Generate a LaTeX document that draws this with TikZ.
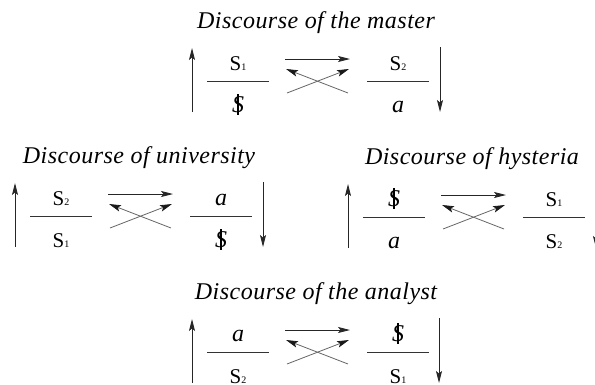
\documentclass[tikz,border=0pt]{standalone}
\usepackage{fontspec}
\setmainfont{Liberation Serif}
\newfontfamily\titlefont[LetterSpace=2]{Liberation Serif}
\usetikzlibrary{arrows.meta}
\newcommand\bS{{\ooalign{\itshape S\cr\hidewidth\rule[-0.12em]{0.045em}{0.86em}\hidewidth\cr}}}
\newcommand\Sn[1]{S{\fontsize{10bp}{10bp}\selectfont #1}}
\newcommand\ita{{\itshape a}}
\tikzset{
  dtitle/.style={anchor=base,inner sep=0pt,font=\titlefont\itshape\fontsize{24bp}{28bp}\selectfont},
  sterm/.style={anchor=base,inner sep=0pt,font=\fontsize{21bp}{24bp}\selectfont},
  iterm/.style={anchor=base,inner sep=0pt,font=\fontsize{24bp}{28bp}\selectfont},
  fbar/.style={line width=0.9bp,black!80},
  arr/.style={line width=0.9bp,black!85,-{Stealth[length=12bp,width=6bp,inset=2.5bp]}},
  carr/.style={line width=0.8bp,black!60,-{Stealth[length=12bp,width=6.5bp,inset=2.5bp,color=black!90]}}
}
% #1 name, #2 x0, #3 line y, #4 title, #5/#6 style+text num1, #7/#8 style+text den1, #9 right arrow x
\newcommand\disc[9]{%
\begin{scope}[shift={(#2,#3)}]
  \node[dtitle] (#1-t) at (124,-53) {#4};
  \node[#5] (#1-n1) at (46,-11) {#6};
  \node[#7] (#1-d1) at (46,31) {#8};
  \coordinate (#1-lb) at (0,31);
  \coordinate (#1-lt) at (0,-33);
  \draw[arr] (#1-lb) -- (#1-lt);
  \coordinate (#1-b1a) at (15,0); \coordinate (#1-b1b) at (77,0);
  \draw[fbar] (#1-b1a) -- (#1-b1b);
  \coordinate (#1-b2a) at (175,0); \coordinate (#1-b2b) at (237,0);
  \draw[fbar] (#1-b2a) -- (#1-b2b);
  \coordinate (#1-ha) at (93,-22); \coordinate (#1-hb) at (158,-22);
  \draw[arr] (#1-ha) -- (#1-hb);
  \coordinate (#1-c1) at (95,12); \coordinate (#1-c2) at (157,-12);
  \draw[carr] (#1-c1) -- (#1-c2);
  \coordinate (#1-c3) at (156,12); \coordinate (#1-c4) at (94,-12);
  \draw[carr] (#1-c3) -- (#1-c4);
  \coordinate (#1-rt) at (#9,-34); \coordinate (#1-rb) at (#9,31);
  \draw[arr] (#1-rt) -- (#1-rb);
\end{scope}}
\begin{document}
\begin{tikzpicture}[x=1bp,y=-1bp]
\useasboundingbox (0,0) rectangle (595,384);
% Master
\disc{m}{192}{81}{Discourse of the master}{sterm}{\Sn{1}}{iterm}{\bS}{248}
\node[sterm] (m-n2) at (192+206,81-11) {\Sn{2}};
\node[iterm] (m-d2) at (192+206,81+31) {\ita};
% University
\disc{u}{15}{216}{Discourse of university}{sterm}{\Sn{2}}{sterm}{\Sn{1}}{248}
\node[iterm] (u-n2) at (15+206,216-11) {\ita};
\node[iterm] (u-d2) at (15+206,216+31) {\bS};
% Hysteria
\disc{h}{348}{217}{Discourse of hysteria}{iterm}{\bS}{iterm}{\ita}{248}
\node[sterm] (h-n2) at (348+206,217-11) {\Sn{1}};
\node[sterm] (h-d2) at (348+206,217+31) {\Sn{2}};
% Analyst
\disc{a}{192}{352}{Discourse of the analyst}{iterm}{\ita}{sterm}{\Sn{2}}{247}
\node[iterm] (a-n2) at (192+206,352-11) {\bS};
\node[sterm] (a-d2) at (192+206,352+31) {\Sn{1}};
\end{tikzpicture}
\end{document}
